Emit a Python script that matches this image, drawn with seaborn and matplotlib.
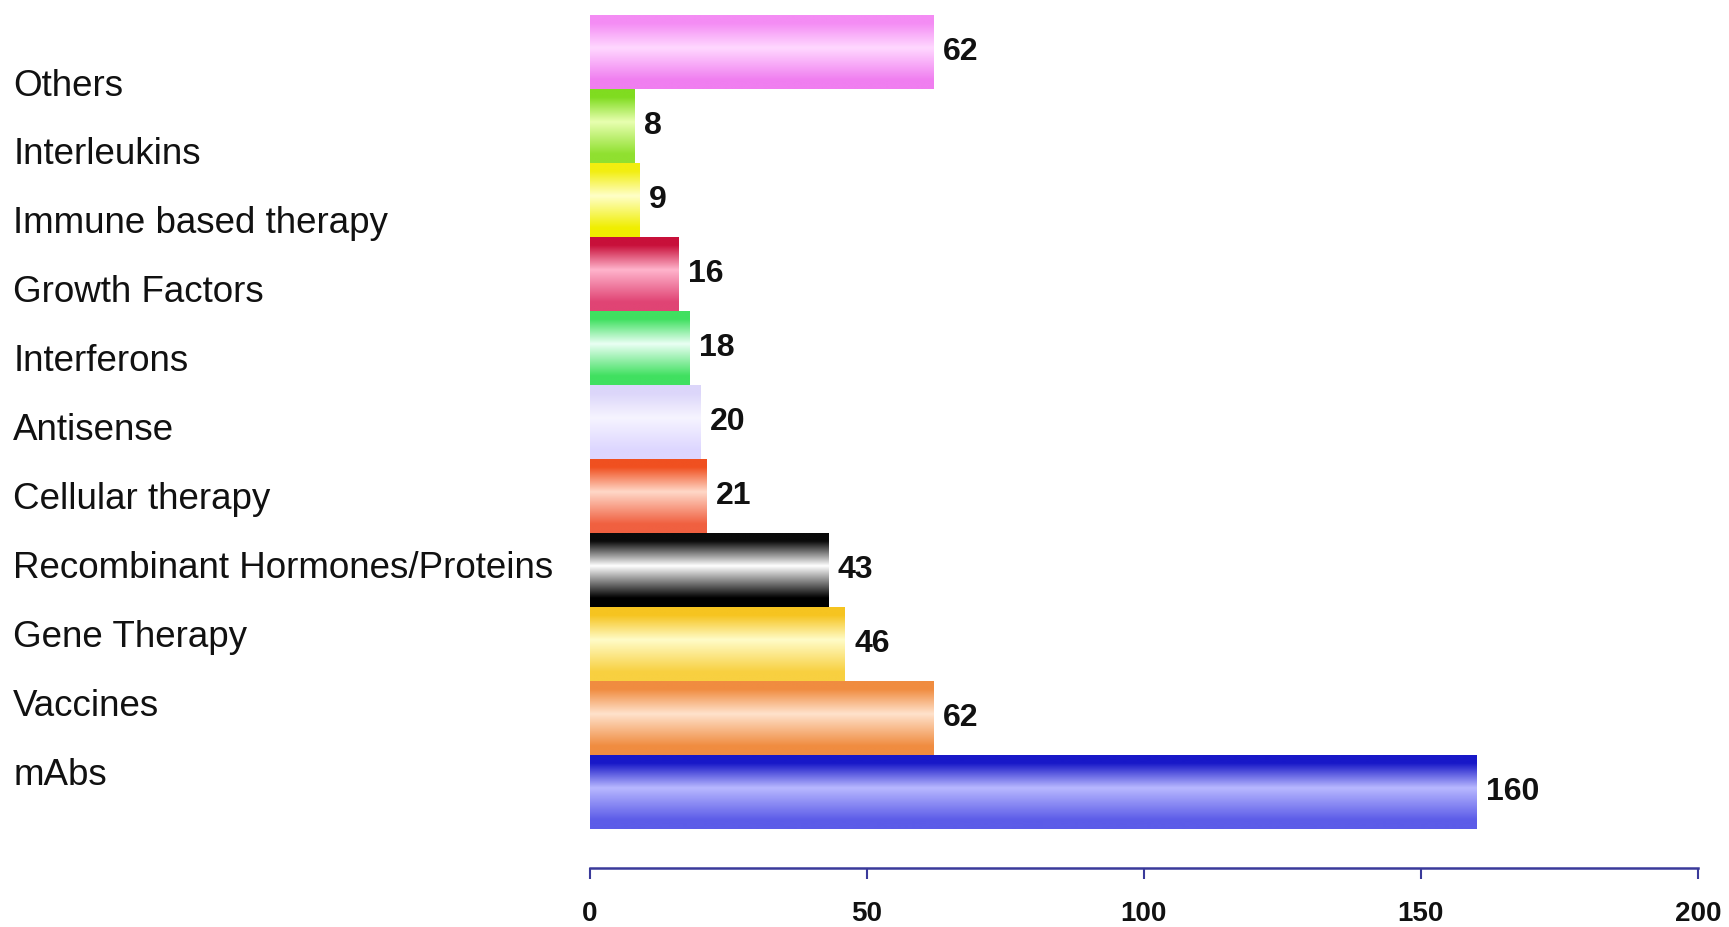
import matplotlib
matplotlib.use("Agg")
import matplotlib.pyplot as plt
from matplotlib.colors import LinearSegmentedColormap
import seaborn as sns
import numpy as np
import pandas as pd

# data, top to bottom as in the chart
categories = ["Others", "Interleukins", "Immune based therapy", "Growth Factors",
              "Interferons", "Antisense", "Cellular therapy",
              "Recombinant Hormones/Proteins", "Gene Therapy", "Vaccines", "mAbs"]
counts = [62, 8, 9, 16, 18, 20, 21, 43, 46, 62, 160]
x_ticks = [0, 50, 100, 150, 200]

# shading for each bar: top edge, light middle, bottom edge
top_cols = ["#f48cf4", "#80dc20", "#f2ee10", "#c8103a", "#40e060", "#dcd6fa",
            "#f05020", "#0a0a0a", "#f6c420", "#f08c40", "#1818c8"]
mid_cols = ["#ffd8ff", "#e8ffb0", "#ffffc8", "#ffb4cc", "#eafff4", "#f6f4ff",
            "#ffd8c8", "#ffffff", "#fffcc8", "#ffe2cc", "#b8b8ff"]
bot_cols = ["#f07ef0", "#90e030", "#f0ee00", "#e04474", "#40e060", "#ddd6ff",
            "#f06040", "#000000", "#f8d040", "#f08c40", "#5c5ce8"]

df = pd.DataFrame({"Category": categories, "Count": counts})

sns.set_style("white")
plt.rcParams["font.family"] = ["Liberation Sans", "DejaVu Sans"]

fig = plt.figure(figsize=(17.29, 9.27), dpi=100)
ax = fig.add_axes([0.341, 0.1057, 0.641, 0.8785])

sns.barplot(data=df, x="Count", y="Category", orient="h", width=1.0,
            color="white", linewidth=0, ax=ax)

# cylinder-like gradient fill clipped to every bar
for i, p in enumerate(ax.patches):
    x0, y0 = p.get_x(), p.get_y()
    w, h = p.get_width(), p.get_height()
    cmap = LinearSegmentedColormap.from_list(
        "g%d" % i, [(0, top_cols[i]), (0.12, top_cols[i]), (0.45, mid_cols[i]),
                    (0.88, bot_cols[i]), (1, bot_cols[i])])
    grad = np.linspace(0, 1, 256).reshape(-1, 1)
    im = ax.imshow(grad, cmap=cmap, aspect="auto", origin="upper",
                   extent=(x0, x0 + w, y0 + h, y0), zorder=2)
    im.set_clip_path(p)
    p.set_facecolor("none")
    ax.annotate(str(counts[i]), (x0 + w, y0 + h / 2), xytext=(7, 0),
                textcoords="offset points", ha="left", va="center",
                fontsize=23, fontweight="bold", color="#111111")

ax.set_xlim(0, 200)
ax.set_ylim(len(categories) - 0.5, -0.5)

# category labels sit on their own even spacing, left aligned at figure edge
label_pos = np.linspace(0.41, 9.72, len(categories))
ax.set_yticks(label_pos, categories)
ax.tick_params(axis="y", left=False, length=0, pad=415)

ax.set_xticks(x_ticks)
ax.tick_params(axis="x", bottom=True, direction="out", length=8, width=1.5,
               color="#3a3a9a", pad=16, labelsize=20)

ax.set_xlabel("")
ax.set_ylabel("")
for s in ["left", "top", "right"]:
    ax.spines[s].set_visible(False)
ax.spines["bottom"].set_position(("outward", 28))
ax.spines["bottom"].set_color("#3a3a9a")
ax.spines["bottom"].set_linewidth(1.8)

fig.canvas.draw()
for t in ax.get_yticklabels():
    t.set_horizontalalignment("left")
    t.set_fontsize(26.5)
    t.set_color("#111111")
for t in ax.get_xticklabels():
    t.set_fontweight("bold")
    t.set_fontsize(20)
    t.set_color("#111111")

fig.savefig("out.png", dpi=100, facecolor="white")
